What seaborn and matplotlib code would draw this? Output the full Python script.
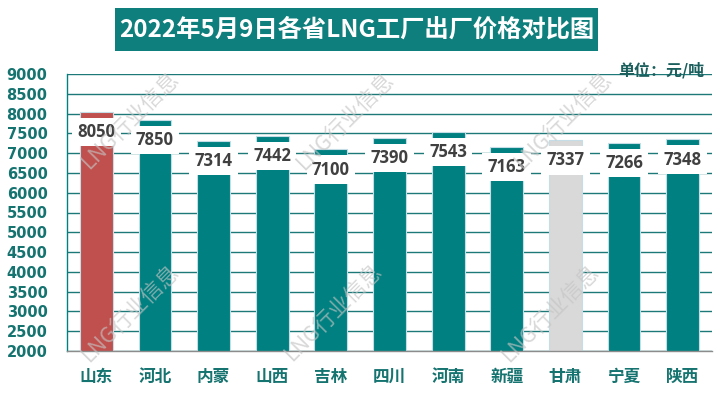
import matplotlib
matplotlib.use("Agg")
import matplotlib.pyplot as plt
import matplotlib.patches as mpatches
from matplotlib.ticker import MultipleLocator, FixedLocator
import seaborn as sns

# Data
provinces = ["山东", "河北", "内蒙", "山西", "吉林", "四川", "河南", "新疆", "甘肃", "宁夏", "陕西"]
prices = [8050, 7850, 7314, 7442, 7100, 7390, 7543, 7163, 7337, 7266, 7348]
bar_colors = ["#C0504D", "#008080", "#008080", "#008080", "#008080", "#008080",
              "#008080", "#008080", "#D9D9D9", "#008080", "#008080"]

TITLE = "2022年5月9日各省LNG工厂出厂价格对比图"
UNIT = "单位：元/吨"
WATERMARK = "LNG行业信息"

TEAL = "#008080"
LABEL_TEAL = "#157370"

sns.set_style("white")
plt.rcParams['font.family'] = ['Noto Sans CJK SC', 'DejaVu Sans']

fig = plt.figure(figsize=(7.22, 3.93), dpi=100)
ax = fig.add_axes([67 / 722, 42 / 393, 645 / 722, 277 / 393])

sns.barplot(x=provinces, y=prices, hue=provinces, palette=bar_colors, legend=False,
            width=0.56, saturation=1, edgecolor="#c5dde6", linewidth=0.8, ax=ax)

ax.set_ylim(2000, 9000)
ax.set_xlim(-0.5, len(provinces) - 0.5)
ax.yaxis.set_major_locator(MultipleLocator(500))

# gridlines behind the bars, none at the top
ax.set_axisbelow(True)
ax.yaxis.grid(True, color="#1d7878", linewidth=1.0)
ax.get_ygridlines()[-1].set_visible(False)

for side in ["top", "right"]:
    ax.spines[side].set_visible(False)
ax.spines["left"].set_color(TEAL)
ax.spines["left"].set_linewidth(1.0)
ax.spines["bottom"].set_color("#8c8c8c")
ax.spines["bottom"].set_linewidth(1.0)

ax.tick_params(axis="y", direction="inout", length=7, width=1, color=TEAL,
               pad=10.5, labelsize=10.5, labelcolor=LABEL_TEAL)
for lab in ax.get_yticklabels():
    lab.set_fontfamily("DejaVu Sans")
    lab.set_fontweight("bold")

# category labels, with boundary ticks as minor ticks
ax.xaxis.set_minor_locator(FixedLocator([i - 0.5 for i in range(len(provinces) + 1)]))
ax.tick_params(axis="x", which="major", length=0, pad=12, labelsize=12, labelcolor=LABEL_TEAL)
ax.tick_params(axis="x", which="minor", direction="out", length=5, width=1, color="#8c8c8c")
for lab in ax.get_xticklabels():
    lab.set_fontweight("bold")
ax.set_xlabel("")
ax.set_ylabel("")

# value labels in white boxes over the bar tops
for i, v in enumerate(prices):
    ax.text(i, v - 515, f"{v}", ha="center", va="center", fontsize=12, fontweight="bold",
            family="Open Sans", color="#404040", zorder=5,
            bbox=dict(boxstyle="square,pad=0.32", fc="white", ec="none"))

# watermarks
for px, py in [(130, 120), (345, 121), (563, 120), (130, 313), (333, 312), (550, 313)]:
    fig.text(px / 722, 1 - py / 393, WATERMARK, ha="center", va="center", rotation=45,
             fontsize=15.5, fontweight="light", color="#c4c4c4", alpha=0.65, zorder=10)

# title box
fig.patches.append(mpatches.Rectangle((115 / 722, 1 - 51 / 393), 483 / 722, 43 / 393,
                                      transform=fig.transFigure, fc="#0E7F7C", ec="none"))
fig.text(356.5 / 722, 1 - 29.5 / 393, TITLE, ha="center", va="center",
         fontsize=17.5, fontweight="bold", color="white")

fig.text(704 / 722, 1 - 70 / 393, UNIT, ha="right", va="center",
         fontsize=11.5, fontweight="bold", color="#1b5f5d")

fig.savefig("out.png", dpi=100)
